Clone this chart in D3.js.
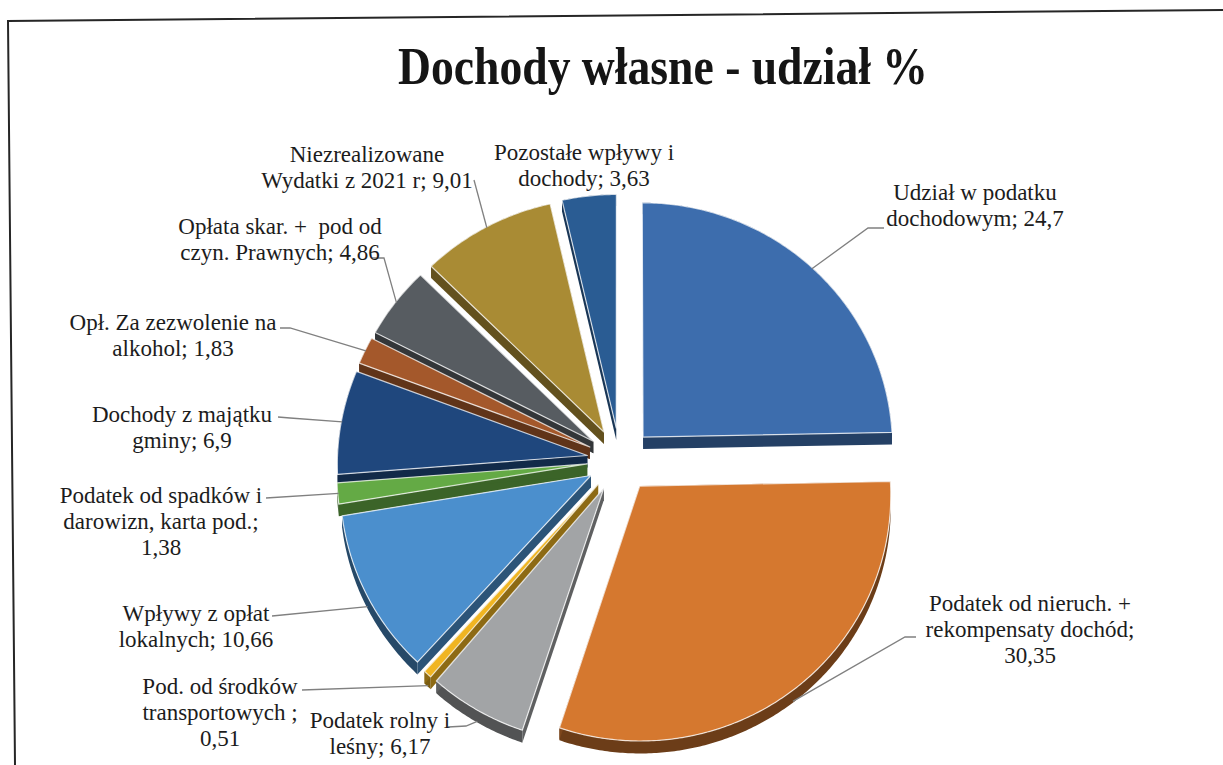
<!DOCTYPE html>
<html lang="pl">
<head>
<meta charset="UTF-8">
<title>Dochody własne - udział %</title>
<script src="https://d3js.org/d3.v7.min.js"></script>
<style>
  body { margin: 0; background: #fff; }
  svg { display: block; }
  .lbl { font-family: "Liberation Serif", "Times New Roman", serif; font-size: 23px; fill: #1c1c1c; white-space: pre; }
  .title { font-family: "Liberation Serif", "Times New Roman", serif; font-size: 53px; font-weight: bold; fill: #151515; }
</style>
</head>
<body>
<script>
// data (percent share)
var categories = [
  "Udział w podatku dochodowym",
  "Podatek od nieruch. + rekompensaty dochód",
  "Podatek rolny i leśny",
  "Pod. od środków transportowych",
  "Wpływy z opłat lokalnych",
  "Podatek od spadków i darowizn, karta pod.",
  "Dochody z majątku gminy",
  "Opł. Za zezwolenie na alkohol",
  "Opłata skar. + pod od czyn. Prawnych",
  "Niezrealizowane Wydatki z 2021 r",
  "Pozostałe wpływy i dochody"
];
var values = [24.7, 30.35, 6.17, 0.51, 10.66, 1.38, 6.9, 1.83, 4.86, 9.01, 3.63];
var labelLines = [
  ["Udział w podatku", "dochodowym; 24,7"],
  ["Podatek od nieruch. +", "rekompensaty dochód;", "30,35"],
  ["Podatek rolny i", "leśny; 6,17"],
  ["Pod. od środków", "transportowych ;", "0,51"],
  ["Wpływy z opłat", "lokalnych; 10,66"],
  ["Podatek od spadków i", "darowizn, karta pod.;", "1,38"],
  ["Dochody z majątku", "gminy; 6,9"],
  ["Opł. Za zezwolenie na", "alkohol; 1,83"],
  ["Opłata skar. +  pod od", "czyn. Prawnych; 4,86"],
  ["Niezrealizowane", "Wydatki z 2021 r; 9,01"],
  ["Pozostałe wpływy i", "dochody; 3,63"]
];
var colors = ["#3d6dad", "#d5782f", "#a2a4a6", "#f0b522", "#4b8fcd", "#64aa45",
              "#1f477d", "#a4582b", "#575c61", "#a98b34", "#2a5c93"];

// label placement (center x, first baseline y) and leader start / elbow
var labelPos = [
  {x: 975, y: 200, a: [884, 228], e: [868, 228]},
  {x: 1030, y: 611, a: [916, 637], e: [905, 637]},
  {x: 380, y: 728, a: [448, 727], e: [466, 726]},
  {x: 220, y: 694, a: [302, 690]},
  {x: 196, y: 621, a: [272, 616]},
  {x: 161, y: 503, a: [266, 498]},
  {x: 182, y: 422, a: [278, 417], e: [290, 418]},
  {x: 173, y: 330, a: [280, 328], e: [290, 328]},
  {x: 280, y: 234, a: [372, 258], e: [384, 258]},
  {x: 367, y: 162, a: [474, 180]},
  {x: 584, y: 160}
];

var W = 1223, H = 765;
var cx = 620, cy = 460, R = 250, K = 0.978, P = 0.0352, DEPTH = 12, EXPLODE = 33;

var svg = d3.select("body").append("svg").attr("width", W).attr("height", H);

// scanned page frame (slightly rotated)
svg.append("path")
  .attr("d", "M1223,10 L8,21 L15,765")
  .attr("fill", "none").attr("stroke", "#262626").attr("stroke-width", 2);

svg.append("text").attr("class", "title")
  .attr("x", 398).attr("y", 84)
  .attr("textLength", 530).attr("lengthAdjust", "spacingAndGlyphs")
  .text("Dochody własne - udział %");

var arcs = d3.pie().sort(null).value(function(d){ return d; })(values);

// plane -> screen with a bit of perspective (front bigger than back)
function proj(px, py, dz) {
  var s = 1 + P * py / R;
  return [cx + px * s, cy + (py * K + dz) * s];
}
function pt(d, theta, r, dz) {
  var m = (d.startAngle + d.endAngle) / 2;
  var px = r * Math.sin(theta) + EXPLODE * Math.sin(m);
  var py = -r * Math.cos(theta) - EXPLODE * Math.cos(m);
  return proj(px, py, dz);
}
function rim(d, dz) {
  var n = Math.max(2, Math.ceil((d.endAngle - d.startAngle) / 0.01));
  var out = [];
  for (var i = 0; i <= n; i++) {
    out.push(pt(d, d.startAngle + (d.endAngle - d.startAngle) * i / n, R, dz));
  }
  return out;
}
var line = d3.line();

// back slices first
var order = arcs.map(function(d, i){ return i; }).sort(function(a, b){
  var ma = (arcs[a].startAngle + arcs[a].endAngle) / 2;
  var mb = (arcs[b].startAngle + arcs[b].endAngle) / 2;
  return -Math.cos(ma) - -Math.cos(mb);
});

var pieG = svg.append("g");
order.forEach(function(i) {
  var d = arcs[i];
  var g = pieG.append("g");
  var top = rim(d, 0), bot = rim(d, DEPTH);
  var c0 = pt(d, 0, 0, 0), c1 = pt(d, 0, 0, DEPTH);
  var base = d3.color(colors[i]);
  // outer wall
  g.append("path").attr("d", line(top.concat(bot.slice().reverse())) + "Z")
    .attr("fill", base.darker(1.9));
  // radial walls
  [[top[0], bot[0]], [top[top.length - 1], bot[bot.length - 1]]].forEach(function(e) {
    g.append("path").attr("d", line([c0, e[0], e[1], c1]) + "Z")
      .attr("fill", base.darker(1.5));
  });
  // top face
  g.append("path").attr("d", line([c0].concat(top)) + "Z")
    .attr("fill", colors[i])
    .attr("stroke", "#ffffff").attr("stroke-opacity", 0.75).attr("stroke-width", 1.2)
    .attr("stroke-linejoin", "round");
});

// leader lines, ending on the rim at the slice's middle angle
labelPos.forEach(function(p, i) {
  if (!p.a) return;
  var d = arcs[i];
  var m = (d.startAngle + d.endAngle) / 2;
  var pts = [p.a];
  if (p.e) pts.push(p.e);
  pts.push(pt(d, m, R - 1, -Math.cos(m) > 0.3 ? DEPTH : 0));
  svg.append("path").attr("d", line(pts))
    .attr("fill", "none").attr("stroke", "#808080").attr("stroke-width", 1.3);
});

// labels
labelPos.forEach(function(p, i) {
  var t = svg.append("text").attr("class", "lbl").attr("text-anchor", "middle");
  labelLines[i].forEach(function(s, k) {
    t.append("tspan").attr("x", p.x).attr("y", p.y + k * 26).text(s);
  });
});
</script>
</body>
</html>
